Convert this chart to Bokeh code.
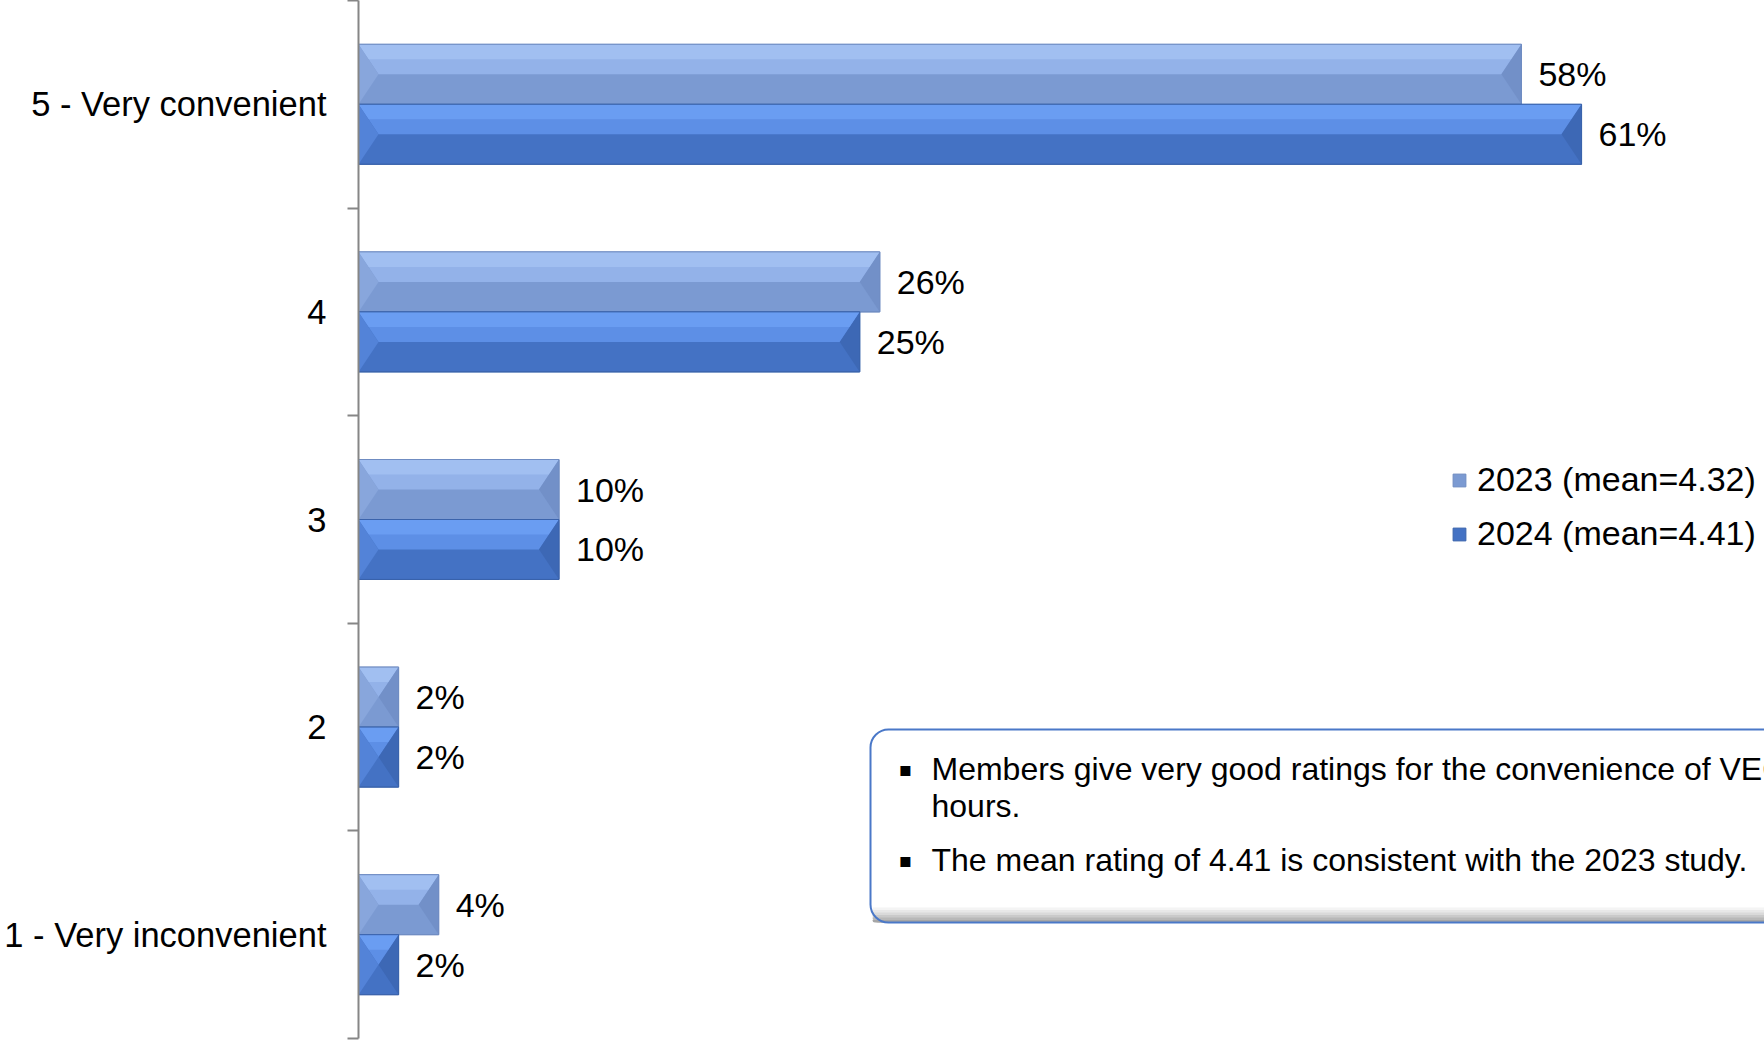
from bokeh.plotting import figure
from bokeh.models import Range1d, FixedTicker, Legend, LegendItem, BoxAnnotation
from bokeh.core.properties import value
from bokeh.embed import file_html
from bokeh.resources import INLINE
import numpy as np

# ---------------- data ----------------
categories = ["1 - Very inconvenient", "2", "3", "4", "5 - Very convenient"]
pct_2023 = [4, 2, 10, 26, 58]
pct_2024 = [2, 2, 10, 25, 61]
series_names = ["2023 (mean=4.32)", "2024 (mean=4.41)"]
note_lines = [
    "Members give very good ratings for the convenience of VECU's branch",
    "hours.",
    "The mean rating of 4.41 is consistent with the 2023 study.",
]
note_bullets = [True, False, True]

# ---------------- layout constants (page pixels) ----------------
FONT = "Liberation Sans"
W, H = 1764, 1040
AXIS_X = 358            # page x of the value axis (0 %)
FRAME_BOTTOM = 1038     # page y of the lower end of the category axis
PX_PER_PCT = 20.05
NCAT = len(categories)
PX_PER_CAT = FRAME_BOTTOM / NCAT

def sx(px):
    return (px - AXIS_X) / PX_PER_PCT

def sy(py):
    return NCAT - py / PX_PER_CAT

p = figure(width=W, height=H,
           x_range=Range1d(0, sx(W)),
           y_range=Range1d(0, NCAT),
           output_backend="svg", toolbar_location=None,
           min_border_left=AXIS_X, min_border_right=0,
           min_border_top=0, min_border_bottom=H - FRAME_BOTTOM)
p.outline_line_color = None
p.xgrid.visible = False
p.ygrid.visible = False
p.xaxis.visible = False
p.background_fill_color = "white"
p.border_fill_color = "white"

# y axis: labels at category centres, ticks at boundaries
centers = np.arange(NCAT) + 0.5
bounds = np.arange(NCAT + 1).astype(float)
yax = p.yaxis[0]
yax.ticker = FixedTicker(ticks=list(centers), minor_ticks=list(bounds))
yax.major_label_overrides = {float(c): lab for c, lab in zip(centers, categories)}
yax.major_tick_line_color = None
yax.major_tick_out = 0
yax.major_tick_in = 0
yax.minor_tick_out = 11
yax.minor_tick_in = 0
yax.minor_tick_line_color = "#868686"
yax.minor_tick_line_width = 2
yax.axis_line_color = "#868686"
yax.axis_line_width = 2
yax.major_label_text_font = FONT
yax.major_label_text_font_size = "34.5px"
yax.major_label_text_color = "black"
yax.major_label_standoff = 21

# ---------------- bars ----------------
bar_h = 0.289
y23 = centers + bar_h / 2
y24 = centers - bar_h / 2
bevel = 20 / PX_PER_PCT

def bevel_shapes(vals, ys):
    top, upper, left, right = ([], []), ([], []), ([], []), ([], [])
    for v, y in zip(vals, ys):
        y0, y1 = y - bar_h / 2, y + bar_h / 2
        b = min(bevel, v / 2)
        top[0].append([0, v, v - b, b]); top[1].append([y1, y1, y, y])
        upper[0].append([0, v, v - b / 2, b / 2]); upper[1].append([y1, y1, y1 - bar_h / 4, y1 - bar_h / 4])
        left[0].append([0, b, 0]); left[1].append([y1, y, y0])
        right[0].append([v, v - b, v]); right[1].append([y1, y, y0])
    return top, upper, left, right

styles = [
    dict(base="#7B9AD2", top="#93B2E9", upper="#A7C5F4", left="#88A6DC", right="#7290C8", line="#6F8CC2"),
    dict(base="#4472C4", top="#5D8FE6", upper="#71A3F7", left="#5383D8", right="#3D68B5", line="#3A63AC"),
]

renderers = []
for vals, ys, st in [(pct_2023, y23, styles[0]), (pct_2024, y24, styles[1])]:
    r = p.hbar(y=ys, left=0, right=vals, height=bar_h, fill_color=st["base"],
               line_color=st["line"], line_width=1)
    renderers.append(r)
    top, upper, left, right = bevel_shapes(vals, ys)
    p.patches(top[0], top[1], fill_color=st["top"], line_color=None)
    p.patches(upper[0], upper[1], fill_color=st["upper"], line_color=None, fill_alpha=0.7)
    p.patches(left[0], left[1], fill_color=st["left"], line_color=None)
    p.patches(right[0], right[1], fill_color=st["right"], line_color=None)
    p.hbar(y=ys, left=0, right=vals, height=bar_h, fill_color=None,
           line_color=st["line"], line_width=1)
    p.text(x=vals, y=ys, text=[f"{v}%" for v in vals], x_offset=17,
           text_baseline="middle", text_align="left", text_font=value(FONT),
           text_font_size="34px", text_color="black")

# ---------------- legend ----------------
legend = Legend(items=[LegendItem(label=n, renderers=[r]) for n, r in zip(series_names, renderers)],
                location=(1451 - AXIS_X, 485), orientation="vertical",
                glyph_width=16, glyph_height=16, label_standoff=10,
                label_text_font=FONT, label_text_font_size="34px",
                label_text_color="black", border_line_color=None,
                background_fill_alpha=0, padding=0, margin=0, spacing=15)
p.add_layout(legend)

# ---------------- note box ----------------
bl, br, bt, bb = sx(870), sx(W) + 10, sy(729), sy(922)
p.add_layout(BoxAnnotation(left=bl, right=br, top=bt, bottom=bb, fill_color="white",
                           fill_alpha=1, line_alpha=0, border_radius=18, level="underlay"))
shade = ["#F4F4F4", "#E8E8E8", "#DADADA", "#CACACA", "#B8B8B8", "#A6A6A6"]
step = 2.5 / PX_PER_CAT
for i, c in enumerate(shade):
    p.add_layout(BoxAnnotation(left=bl + 0.1, right=br, top=bb + (len(shade) - i) * step,
                               bottom=bb, fill_color=c, fill_alpha=1, line_alpha=0,
                               border_radius=(0, 0, 14, 14), level="underlay"))
p.add_layout(BoxAnnotation(left=bl, right=br, top=bt, bottom=bb, fill_alpha=0,
                           line_color="#4A78C8", line_alpha=1, line_width=2,
                           border_radius=18, level="underlay"))

line_y = [sy(768), sy(805), sy(859)]
p.text(x=[sx(931)] * len(note_lines), y=line_y, text=note_lines,
       text_baseline="middle", text_align="left", text_font=value(FONT),
       text_font_size="32px", text_color="black")
bul_y = [yy for yy, b in zip(line_y, note_bullets) if b]
p.text(x=[sx(898)] * len(bul_y), y=bul_y, text=["\u25aa"] * len(bul_y),
       text_baseline="middle", text_align="left", text_font=value("DejaVu Sans"),
       text_font_size="20px", text_color="black")

open("out.html", "w").write(file_html(p, INLINE))
